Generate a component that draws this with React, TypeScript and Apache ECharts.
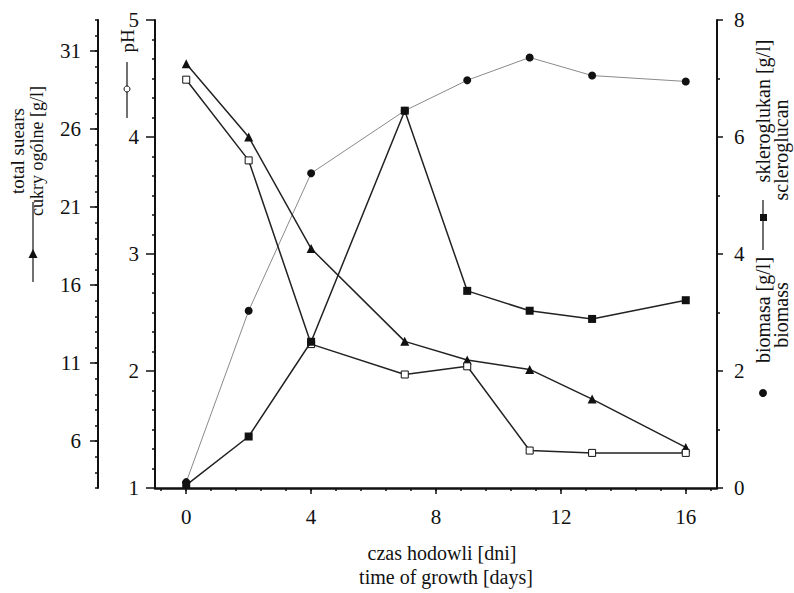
import React, { useEffect, useRef } from "react";
import * as echarts from "echarts";

// ---- data ----
const days = [0, 2, 4, 7, 9, 11, 13, 16];
const totalSugars = [30.2, 25.5, 18.35, 12.4, 11.2, 10.6, 8.7, 5.6];
const pHValues = [4.49, 3.8, 2.23, 1.97, 2.04, 1.32, 1.3, 1.3];
const scleroglucan = [0.05, 0.88, 2.5, 6.45, 3.37, 3.03, 2.89, 3.21];
const biomass = [0.1, 3.03, 5.38, 6.45, 6.97, 7.36, 7.05, 6.95];

const xTickLabels = [0, 4, 8, 12, 16];
const sugarTickLabels = [6, 11, 16, 21, 26, 31];

const FONT = "Liberation Serif";
const INK = "#111";

function pairs(ys: number[]) {
  return days.map((d, i) => [d, ys[i]]);
}

export default function App() {
  const ref = useRef<HTMLDivElement>(null);

  useEffect(() => {
    if (!ref.current) return;
    const chart = echarts.init(ref.current, undefined, { renderer: "svg" });

    const minorX: number[] = [];
    for (let k = -1; k <= 21; k++) minorX.push(Math.round(k * 0.8 * 100) / 100);

    const labelStyle = { fontFamily: FONT, fontSize: 21, color: INK };
    const axisLine = { show: true, onZero: false, lineStyle: { color: INK, width: 2 } };
    const tickStyle = { color: INK, width: 1.5 };

    const rotText = (text: string, x: number, y: number, size: number) => ({
      type: "text",
      x,
      y,
      rotation: Math.PI / 2,
      style: {
        text,
        fontFamily: FONT,
        fontSize: size,
        fill: INK,
        align: "center",
        verticalAlign: "middle",
        textAlign: "center",
        textVerticalAlign: "middle",
      },
    });
    const hText = (text: string, x: number, y: number, size: number) => ({
      type: "text",
      x,
      y,
      style: {
        text,
        fontFamily: FONT,
        fontSize: size,
        fill: INK,
        align: "center",
        verticalAlign: "middle",
        textAlign: "center",
        textVerticalAlign: "middle",
      },
    });

    chart.setOption({
      animation: false,
      backgroundColor: "#fff",
      grid: { left: 155, right: 77, top: 20, bottom: 105 },
      xAxis: [
        {
          type: "value",
          min: -1,
          max: 17,
          position: "bottom",
          axisLine: { show: true, onZero: false, lineStyle: { color: INK, width: 2.5 } },
          axisTick: { show: true, customValues: xTickLabels, length: 6, lineStyle: tickStyle },
          axisLabel: { ...labelStyle, customValues: xTickLabels, margin: 18 },
          splitLine: { show: false },
        },
        {
          type: "value",
          min: -1,
          max: 17,
          position: "bottom",
          axisLine: { show: false, onZero: false },
          axisTick: { show: true, customValues: minorX, length: 3, lineStyle: tickStyle },
          axisLabel: { show: false },
          splitLine: { show: false },
        },
      ],
      yAxis: [
        {
          type: "value",
          position: "left",
          offset: 0,
          min: 1,
          max: 5,
          interval: 1,
          axisLine,
          axisTick: { show: true, length: 9, lineStyle: tickStyle },
          minorTick: { show: true, splitNumber: 6, length: 3, lineStyle: tickStyle },
          axisLabel: { ...labelStyle, margin: 16 },
          splitLine: { show: false },
          minorSplitLine: { show: false },
        },
        {
          type: "value",
          position: "left",
          offset: 57,
          min: 3,
          max: 33,
          axisLine,
          axisTick: { show: true, customValues: sugarTickLabels, length: 8, lineStyle: tickStyle },
          axisLabel: { ...labelStyle, customValues: sugarTickLabels, margin: 17 },
          splitLine: { show: false },
        },
        {
          type: "value",
          position: "left",
          offset: 57,
          min: 3,
          max: 33,
          interval: 1,
          axisLine: { show: false, onZero: false },
          axisTick: { show: true, length: 3, lineStyle: tickStyle },
          axisLabel: { show: false },
          splitLine: { show: false },
        },
        {
          type: "value",
          position: "right",
          offset: 0,
          min: 0,
          max: 8,
          interval: 2,
          axisLine,
          axisTick: { show: true, length: 6, lineStyle: tickStyle },
          minorTick: { show: true, splitNumber: 2, length: 3, lineStyle: tickStyle },
          axisLabel: { ...labelStyle, margin: 17 },
          splitLine: { show: false },
          minorSplitLine: { show: false },
        },
      ],
      series: [
        {
          name: "biomass",
          type: "line",
          xAxisIndex: 0,
          yAxisIndex: 3,
          data: pairs(biomass),
          symbol: "circle",
          symbolSize: 8,
          lineStyle: { color: "#8a8a8a", width: 1 },
          itemStyle: { color: "#111" },
          z: 2,
        },
        {
          name: "total sugars",
          type: "line",
          xAxisIndex: 0,
          yAxisIndex: 1,
          data: pairs(totalSugars),
          symbol: "triangle",
          symbolSize: 9,
          lineStyle: { color: "#222", width: 1.5 },
          itemStyle: { color: "#111" },
          z: 3,
        },
        {
          name: "pH",
          type: "line",
          xAxisIndex: 0,
          yAxisIndex: 0,
          data: pairs(pHValues),
          symbol: "rect",
          symbolSize: 7,
          lineStyle: { color: "#222", width: 1.5 },
          itemStyle: { color: "#fff", borderColor: "#111", borderWidth: 1 },
          z: 4,
        },
        {
          name: "scleroglucan",
          type: "line",
          xAxisIndex: 0,
          yAxisIndex: 3,
          data: pairs(scleroglucan),
          symbol: "rect",
          symbolSize: 8,
          lineStyle: { color: "#222", width: 1.5 },
          itemStyle: { color: "#111" },
          z: 5,
        },
      ],
      graphic: [
        // left titles
        rotText("total suears", 17, 151, 19),
        rotText("cukry ogólne [g/l]", 37, 151, 18),
        { type: "line", shape: { x1: 33, y1: 202, x2: 33, y2: 282 }, style: { stroke: INK, lineWidth: 1.2 } },
        { type: "polygon", shape: { points: [[33, 249], [28.5, 258], [37.5, 258]] }, style: { fill: INK } },
        // pH title
        rotText("pH", 127, 41, 19),
        { type: "line", shape: { x1: 127, y1: 62, x2: 127, y2: 118 }, style: { stroke: INK, lineWidth: 1.2 } },
        { type: "circle", shape: { cx: 127, cy: 89, r: 3 }, style: { fill: "#fff", stroke: INK, lineWidth: 1 } },
        // right titles
        rotText("skleroglukan [g/l]", 763, 111, 20),
        { type: "line", shape: { x1: 763, y1: 200, x2: 763, y2: 250 }, style: { stroke: INK, lineWidth: 1.2 } },
        { type: "rect", shape: { x: 760, y: 214, width: 7, height: 7 }, style: { fill: INK } },
        rotText("biomasa [g/l]", 763, 310, 20),
        rotText("scleroglucan", 781, 150, 20),
        rotText("biomass", 781, 315, 20),
        { type: "circle", shape: { cx: 763, cy: 393, r: 4 }, style: { fill: INK } },
        // x title
        hText("czas hodowli [dni]", 442, 553, 20),
        hText("time of growth [days]", 446, 577, 20),
      ],
    });

    return () => chart.dispose();
  }, []);

  return (
    <div
      ref={ref}
      style={{ position: "absolute", left: 0, top: 0, width: 794, height: 593, background: "#fff" }}
    />
  );
}
